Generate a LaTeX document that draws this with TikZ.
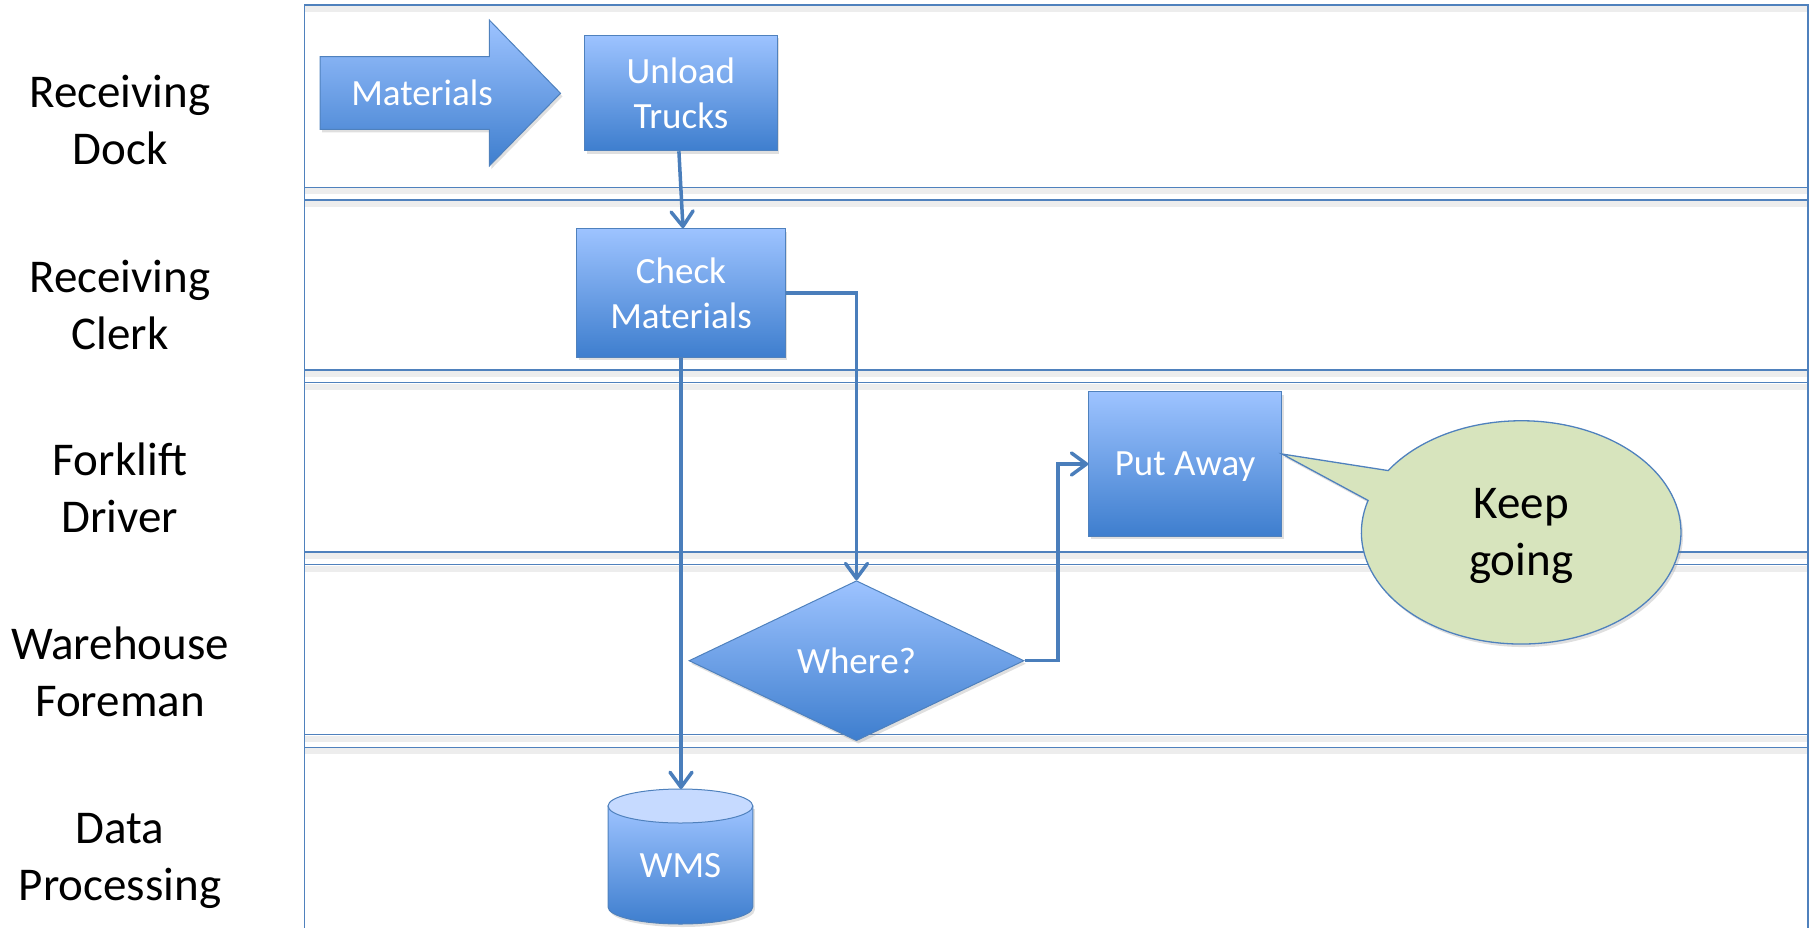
\documentclass[tikz,border=0pt]{standalone}
\usepackage{fontspec}
\setmainfont{Carlito}
\usetikzlibrary{shapes.geometric,shapes.callouts,arrows.meta,shadows,calc}
\definecolor{lineblue}{RGB}{79,129,189}
\definecolor{conblue}{RGB}{74,126,187}
\definecolor{topblue}{RGB}{157,195,255}
\definecolor{botblue}{RGB}{62,126,206}
\definecolor{capblue}{RGB}{198,218,255}
\definecolor{calloutgreen}{RGB}{215,228,189}
\begin{document}
\begin{tikzpicture}[x=1pt,y=-1pt,
  lane/.style={draw=lineblue,line width=1.5pt},
  laneshadow/.style={draw=black,opacity=0.07,line width=6pt},
  softshadow/.style={drop shadow={shadow xshift=2pt,shadow yshift=-3pt,opacity=0.25}},
  bluefill/.style={draw=lineblue,line width=1pt,top color=topblue,bottom color=botblue},
  boxtext/.style={text=white,font=\fontsize{37}{45}\selectfont,align=center},
  proc/.style={rectangle,bluefill,boxtext,inner sep=0pt,softshadow},
  decision/.style={diamond,bluefill,boxtext,inner sep=0pt,aspect=2.09,softshadow},
  conn/.style={draw=conblue,line width=3.5pt,-{Straight Barb[length=15pt,width=22pt,round]}},
  lanelabel/.style={font=\fontsize{47}{57}\selectfont,align=center,text width=260pt,anchor=base,text=black},
  bubble/.style={ellipse callout,draw=lineblue,line width=1.3pt,fill=calloutgreen,font=\fontsize{47}{57}\selectfont,align=center,text=black,softshadow}
]
\useasboundingbox (0,0) rectangle (1816,927);

% lane shadows
\foreach \yy in {5,187.3,200,370,382.7,552,564.7,734.7,747.3}
  \draw[laneshadow] (304.6,\yy+4) -- (1808,\yy+4);
% frame and lane separators
\draw[lane] (304.6,940) -- (304.6,5) -- (1808,5) -- (1808,940);
\foreach \yy in {187.3,200,370,382.7,552,564.7,734.7,747.3}
  \draw[lane] (304.6,\yy) -- (1808,\yy);

% lane labels
\node[lanelabel] (l1) at (120,107.3) {Receiving\\Dock};
\node[lanelabel] (l2) at (120,292) {Receiving\\Clerk};
\node[lanelabel] (l3) at (120,475.5) {Forklift\\Driver};
\node[lanelabel] (l4) at (120,659.5) {Warehouse\\Foreman};
\node[lanelabel] (l5) at (120,843.5) {Data\\Processing};

% materials arrow
\path[bluefill,softshadow] (320,56.7) -- (489.3,56.7) -- (489.3,20) -- (560.5,93.3)
  -- (489.3,166) -- (489.3,129.3) -- (320,129.3) -- cycle;
\node[boxtext] (materials) at (422,93) {Materials};

% process boxes
\node[proc,minimum width=192.2,minimum height=115.7] (unload) at (680.9,92.9) {Unload\\Trucks};
\node[proc,minimum width=208.5,minimum height=128.6] (check) at (681,293) {Check\\Materials};
\node[proc,minimum width=192.8,minimum height=144.6,text depth=0pt] (putaway) at (1185.1,464) {Put Away};
\node[decision,minimum width=335,minimum height=160] (where) at (856.5,660.7) {Where?};

% WMS cylinder
\path[bluefill,softshadow] (608,806) -- (608,907)
  .. controls (608,916.4) and (640.4,924) .. (680.4,924)
  .. controls (720.4,924) and (752.8,916.4) .. (752.8,907)
  -- (752.8,806) -- cycle;
\draw[draw=lineblue,line width=1pt,fill=capblue] (680.4,806) ellipse [x radius=72.4pt,y radius=17pt];
\node[boxtext,minimum width=144.8,minimum height=118,inner sep=0pt] (wms) at (680.4,866) {WMS};
\coordinate (wmstop) at (680.4,789);

% callout
\node[bubble,minimum width=319.6,minimum height=223.3,text depth=0pt,
  callout absolute pointer={([yshift=10pt]putaway.east)},callout pointer arc=17] (keep) at (1521.2,532.4) {Keep\\going};

% connectors
\draw[conn] ([xshift=-2pt]unload.south) -- ([xshift=2pt]check.north);
\draw[conn] (check.east) -| (where.north);
\draw[conn] (check.south) -- (check.south |- wmstop);
\draw[conn] (where.east) -- ++(33.4,0) |- (putaway.west);
\end{tikzpicture}
\end{document}
